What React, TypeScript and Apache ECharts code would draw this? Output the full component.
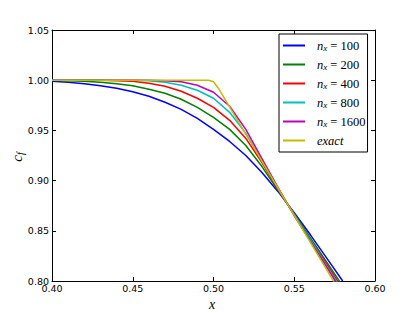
import React, { useEffect, useRef } from "react";
import * as echarts from "echarts";

const xs = [0.40, 0.41, 0.42, 0.43, 0.44, 0.45, 0.46, 0.47, 0.48, 0.49, 0.50, 0.51, 0.52, 0.53, 0.54, 0.55, 0.56, 0.57, 0.58];
const n100 = [0.999, 0.998, 0.9965, 0.9945, 0.992, 0.9885, 0.984, 0.978, 0.971, 0.962, 0.951, 0.939, 0.925, 0.908, 0.889, 0.868, 0.846, 0.823, 0.800];
const n200 = [1.000, 0.9995, 0.999, 0.998, 0.9965, 0.9945, 0.991, 0.987, 0.981, 0.973, 0.963, 0.951, 0.935, 0.914, 0.890, 0.867, 0.843, 0.819, 0.795];
const n400 = [1.000, 1.000, 1.000, 1.000, 0.9995, 0.999, 0.997, 0.994, 0.989, 0.982, 0.973, 0.960, 0.942, 0.918, 0.891, 0.866, 0.841, 0.817, 0.792];
const n800 = [1.000, 1.000, 1.000, 1.000, 1.000, 1.000, 0.9995, 0.998, 0.995, 0.990, 0.982, 0.968, 0.947, 0.920, 0.892, 0.866, 0.841, 0.815, 0.790];
const n1600 = [1.000, 1.000, 1.000, 1.000, 1.000, 1.000, 1.000, 0.9995, 0.9985, 0.995, 0.988, 0.974, 0.951, 0.922, 0.893, 0.865, 0.8395, 0.814, 0.788];
const exactX = [0.40, 0.497, 0.500, 0.503, 0.58];
const exactY = [1.000, 1.000, 0.9985, 0.992, 0.7845];

const seriesNames = ["n_x = 100", "n_x = 200", "n_x = 400", "n_x = 800", "n_x = 1600", "exact"];
const seriesColors = ["#0000ff", "#008000", "#ff0000", "#00bfbf", "#bf00bf", "#bfbf00"];
const xTicks = [0.40, 0.45, 0.50, 0.55, 0.60];
const yTicks = [0.80, 0.85, 0.90, 0.95, 1.00, 1.05];

const pair = (x: number[], y: number[]) => x.map((v, i) => [v, y[i]]);

export default function App() {
  const ref = useRef<HTMLDivElement>(null);
  useEffect(() => {
    if (!ref.current) return;
    const chart = echarts.init(ref.current, undefined, { renderer: "svg" });
    const tickFont = { fontFamily: "DejaVu Sans", fontSize: 9.5, color: "#000" };
    const serifF = "Liberation Serif";
    const numeric = [n100, n200, n400, n800, n1600];
    const series: any[] = numeric.map((d, i) => ({
      name: seriesNames[i],
      type: "line",
      data: pair(xs, d),
      showSymbol: false,
      clip: true,
      lineStyle: { color: seriesColors[i], width: 1.5 },
      itemStyle: { color: seriesColors[i] },
    }));
    series.push({
      name: seriesNames[5],
      type: "line",
      data: pair(exactX, exactY),
      showSymbol: false,
      clip: true,
      lineStyle: { color: seriesColors[5], width: 1.5 },
      itemStyle: { color: seriesColors[5] },
    });
    const mkX = (pos: string, labels: boolean) => ({
      type: "value",
      position: pos,
      min: xTicks[0],
      max: xTicks[xTicks.length - 1],
      interval: 0.05,
      axisLine: { show: true, onZero: false, lineStyle: { color: "#000", width: 1 } },
      axisTick: { show: true, inside: true, length: 4, lineStyle: { color: "#000" } },
      axisLabel: { show: labels, ...tickFont, margin: 2, showMinLabel: true, showMaxLabel: true, formatter: (v: number) => v.toFixed(2) },
      splitLine: { show: false },
    });
    const mkY = (pos: string, labels: boolean) => ({
      type: "value",
      position: pos,
      min: yTicks[0],
      max: yTicks[yTicks.length - 1],
      interval: 0.05,
      axisLine: { show: true, onZero: false, lineStyle: { color: "#000", width: 1 } },
      axisTick: { show: true, inside: true, length: 4, lineStyle: { color: "#000" } },
      axisLabel: { show: labels, ...tickFont, margin: 3, showMinLabel: true, showMaxLabel: true, formatter: (v: number) => v.toFixed(2) },
      splitLine: { show: false },
    });
    chart.setOption({
      animation: false,
      backgroundColor: "#fff",
      grid: { left: 52, right: 42, top: 30, bottom: 32, containLabel: false },
      xAxis: [mkX("bottom", true), mkX("top", false)],
      yAxis: [mkY("left", true), mkY("right", false)],
      legend: {
        orient: "vertical",
        left: 279,
        top: 34,
        backgroundColor: "#fff",
        borderColor: "#000",
        borderWidth: 1,
        borderRadius: 0,
        padding: [5, 2, 5, 4],
        itemWidth: 22,
        itemHeight: 2,
        itemGap: 5.5,
        icon: "rect",
        data: seriesNames,
        formatter: (name: string) => {
          if (name === "exact") return "{e|exact}";
          const num = name.split("= ")[1];
          return "{n|n}{s|x}{t| = " + num + "}";
        },
        textStyle: {
          fontFamily: serifF,
          fontSize: 12,
          lineHeight: 12,
          color: "#000",
          rich: {
            n: { fontFamily: serifF, fontStyle: "italic", fontSize: 12.5, padding: [0, 0, 0, 7], color: "#000" },
            s: { fontFamily: serifF, fontStyle: "italic", fontSize: 9, padding: [5, 0, 0, 0], color: "#000" },
            t: { fontFamily: serifF, fontSize: 12.5, color: "#000" },
            e: { fontFamily: serifF, fontStyle: "italic", fontSize: 12.5, padding: [0, 0, 0, 7], color: "#000" },
          },
        },
      },
      graphic: [
        {
          type: "text",
          x: 212,
          y: 304,
          style: { text: "x", font: `italic 14px "${serifF}"`, fill: "#000", textAlign: "center", textVerticalAlign: "middle" },
        },
        {
          type: "text",
          x: 17,
          y: 157,
          rotation: Math.PI / 2,
          style: {
            text: "{c|c}{f|f}",
            textAlign: "center",
            textVerticalAlign: "middle",
            rich: {
              c: { fontFamily: serifF, fontStyle: "italic", fontSize: 15, fill: "#000" },
              f: { fontFamily: serifF, fontStyle: "italic", fontSize: 10, fill: "#000", padding: [6, 0, 0, 0] },
            },
          },
        },
      ],
      series,
    });
    return () => chart.dispose();
  }, []);
  return <div ref={ref} style={{ position: "fixed", left: 0, top: 0, width: 417, height: 313 }} />;
}
